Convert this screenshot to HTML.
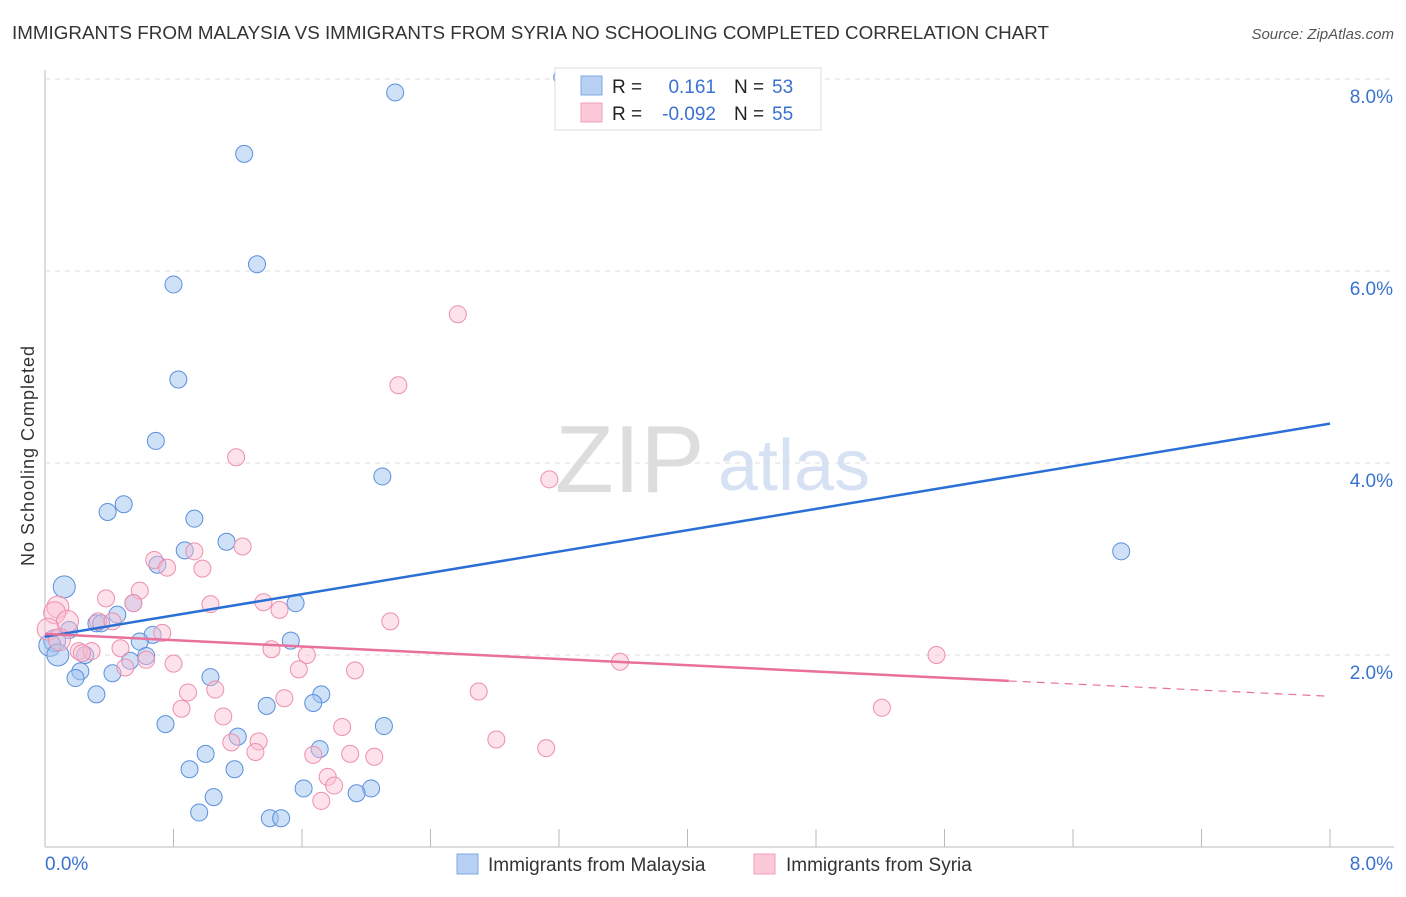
<!DOCTYPE html>
<html><head><meta charset="utf-8"><style>
body{margin:0;background:#fff;font-family:"Liberation Sans",sans-serif}
svg text{font-family:"Liberation Sans",sans-serif}
</style></head><body>
<svg id="c" width="1406" height="892">
<text x="12" y="39" font-size="18" fill="#333" textLength="1037" lengthAdjust="spacingAndGlyphs">IMMIGRANTS FROM MALAYSIA VS IMMIGRANTS FROM SYRIA NO SCHOOLING COMPLETED CORRELATION CHART</text>
<text x="1394" y="39" font-size="15" fill="#555" font-style="italic" text-anchor="end">Source: ZipAtlas.com</text>
<text x="34" y="456" font-size="18" fill="#333" transform="rotate(-90 34 456)" text-anchor="middle" textLength="220">No Schooling Completed</text>
<text x="555" y="492" font-size="96" fill="#ddd" font-family="Liberation Serif">ZIP</text>
<text x="718" y="490" font-size="72" fill="#d6e2f3">atlas</text>
<g id="grid"></g><g id="dots"></g><g id="lines"></g>
<g>
<rect x="555" y="68" width="266" height="62" fill="#fff" stroke="#ddd"/>
<rect x="581" y="76" width="21" height="19" fill="#b7d0f3" stroke="#7fa8e4"/>
<rect x="581" y="103" width="21" height="19" fill="#fcc9d8" stroke="#f0a0b8"/>
<text x="612" y="93" font-size="19" fill="#222">R =</text><text x="716" y="93" font-size="19" fill="#3a72d0" text-anchor="end">0.161</text>
<text x="734" y="93" font-size="19" fill="#222">N =</text><text x="772" y="93" font-size="19" fill="#3a72d0">53</text>
<text x="612" y="120" font-size="19" fill="#222">R =</text><text x="716" y="120" font-size="19" fill="#3a72d0" text-anchor="end">-0.092</text>
<text x="734" y="120" font-size="19" fill="#222">N =</text><text x="772" y="120" font-size="19" fill="#3a72d0">55</text>
</g>
<g>
<rect x="457" y="854" width="21" height="20" fill="#b7d0f3" stroke="#7fa8e4"/>
<text x="488" y="871" font-size="19" fill="#333">Immigrants from Malaysia</text>
<rect x="754" y="854" width="21" height="20" fill="#fcc9d8" stroke="#f0a0b8"/>
<text x="786" y="871" font-size="19" fill="#333">Immigrants from Syria</text>
</g>
</svg>
<script>
const xTicks=[0,1,2,3,4,5,6,7,8];
const yTicks=[2,4,6,8];
const yTickLabels=["2.0%","4.0%","6.0%","8.0%"];
const xTickLabels=["0.0%","8.0%"];
const blueX=[2.18,1.24,1.32,0.80,0.83,0.69,2.10,6.70,0.49,0.39,0.93,1.13,0.87,0.70,0.12,0.55,1.56,0.45,0.32,0.15,0.35,0.67,0.59,1.53,0.06,0.03,0.08,0.25,0.63,0.53,0.22,0.42,1.03,0.19,0.32,1.72,1.67,1.38,0.75,2.11,1.20,1.71,1.00,0.90,1.18,1.61,2.03,1.94,1.05,0.96,1.40,1.47,3.22];
const blueY=[7.86,7.22,6.07,5.86,4.87,4.23,3.86,3.08,3.57,3.49,3.42,3.18,3.09,2.94,2.71,2.54,2.54,2.42,2.33,2.26,2.33,2.21,2.14,2.15,2.15,2.10,2.00,2.00,1.99,1.94,1.83,1.81,1.77,1.76,1.59,1.59,1.50,1.47,1.28,1.26,1.15,1.02,0.97,0.81,0.81,0.61,0.61,0.56,0.52,0.36,0.30,0.30,8.02];
const pinkX=[2.57,2.20,1.19,3.14,0.68,0.93,1.23,0.76,0.98,0.59,0.38,1.03,1.36,1.46,0.55,2.15,0.08,0.06,0.14,0.33,0.42,0.73,0.02,0.09,0.21,0.29,0.23,0.47,0.63,1.41,1.63,3.58,5.55,0.80,1.58,1.93,0.50,1.06,0.89,1.49,2.70,0.85,1.11,5.21,1.85,1.33,1.16,2.81,3.12,1.31,1.67,1.90,2.05,1.76,1.80,1.72];
const pinkY=[5.55,4.81,4.06,3.83,2.99,3.08,3.13,2.91,2.90,2.67,2.59,2.53,2.55,2.47,2.54,2.35,2.50,2.44,2.35,2.35,2.35,2.23,2.27,2.16,2.04,2.04,2.02,2.07,1.95,2.06,2.00,1.93,2.00,1.91,1.85,1.84,1.87,1.64,1.61,1.55,1.62,1.44,1.36,1.45,1.25,1.10,1.09,1.12,1.03,0.99,0.96,0.97,0.94,0.73,0.64,0.48];
const blueTrend=[0,2.19,8,4.41];
const pinkTrend=[0,2.22,6,1.73,8,1.57];
const X=v=>45+v/8*1285, Y=v=>847-v/2*192;
const NS="http://www.w3.org/2000/svg";
function mk(p,t,a){const e=document.createElementNS(NS,t);for(const k in a)e.setAttribute(k,a[k]);document.getElementById(p).appendChild(e);return e;}
let ax=mk('grid','line',{x1:45,y1:70,x2:45,y2:847,stroke:'#bbb'});


let bx=mk('grid','line',{x1:45,y1:847,x2:1394,y2:847,stroke:'#bbb'});


yTicks.forEach((v,i)=>{
 let g=mk('grid','line',{x1:45,y1:Y(v),x2:1394,y2:Y(v),stroke:'#ddd','stroke-dasharray':'5,5'});
 
 
 let t=mk('grid','text',{x:1393,y:Y(v)+24,'font-size':19,fill:'#3a72d0','text-anchor':'end'});
 t.textContent=yTickLabels[i];
 
 
});
for(let i=0;i<=10;i++){const px=45+i*128.5;
 let t=mk('grid','line',{x1:px,y1:829,x2:px,y2:847,stroke:'#bbb'});
 
 }
[[0,'start',45],[8,'end',1393]].forEach((a,i)=>{
 let t=mk('grid','text',{x:a[2],y:870,'font-size':19,fill:'#3a72d0','text-anchor':a[1]});
 t.textContent=xTickLabels[i];
 
 });
blueX.forEach((v,i)=>{
 let c=mk('dots','circle',{cx:X(v),cy:Y(blueY[i]),r:v<0.15?11:8.5,fill:'rgba(160,195,240,0.5)',stroke:'#5b8fdc','stroke-width':1});
 
 });
pinkX.forEach((v,i)=>{
 let c=mk('dots','circle',{cx:X(v),cy:Y(pinkY[i]),r:v<0.15?11:8.5,fill:'rgba(250,190,210,0.45)',stroke:'#ec8fae','stroke-width':1});
 
 });
let bl=mk('lines','line',{x1:X(blueTrend[0]),y1:Y(blueTrend[1]),x2:X(blueTrend[2]),y2:Y(blueTrend[3]),stroke:'#2a6fd6','stroke-width':2.5});


let pl=mk('lines','line',{x1:X(pinkTrend[0]),y1:Y(pinkTrend[1]),x2:X(pinkTrend[2]),y2:Y(pinkTrend[3]),stroke:'#e8709a','stroke-width':2.5});


let pd=mk('lines','line',{x1:X(pinkTrend[2]),y1:Y(pinkTrend[3]),x2:X(pinkTrend[4]),y2:Y(pinkTrend[5]),stroke:'#e8709a','stroke-width':1.2,'stroke-dasharray':'8,6'});


</script>
</body></html>
